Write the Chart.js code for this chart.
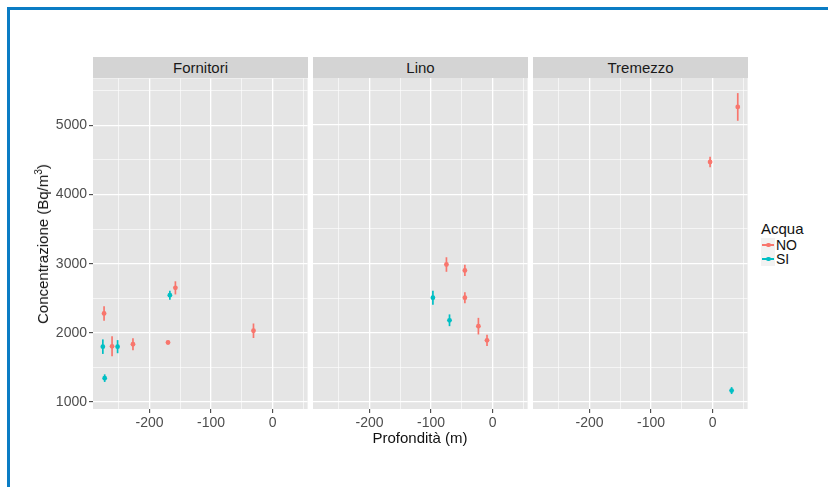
<!DOCTYPE html>
<html>
<head>
<meta charset="utf-8">
<script src="https://cdn.jsdelivr.net/npm/chart.js@4.4.1/dist/chart.umd.min.js"></script>
<style>
    body { margin: 0; background: #fff; font-family: "Liberation Sans", Arial, sans-serif; }
    #page { position: relative; width: 828px; height: 487px; overflow: hidden; background: #fff; }
    #frame { position: absolute; left: 7px; top: 7px; width: 900px; height: 600px;
             border-left: 3px solid #0a7cc4; border-top: 3px solid #0a7cc4; box-sizing: border-box; }
    .panel { position: absolute; top: 68px; height: 369px; }
    .strip { position: absolute; top: 57px; height: 21px; background: #d4d4d4; color: #1a1a1a;
             font-size: 15px; line-height: 21px; text-align: center; }
    .ytitle { position: absolute; left: 42px; top: 244px; transform: translate(-50%, -50%) rotate(-90deg);
              white-space: nowrap; font-size: 15px; color: #111; }
    .xtitle { position: absolute; left: 420px; top: 437px; transform: translate(-50%, -50%);
              white-space: nowrap; font-size: 15px; color: #111; }
    .legend { position: absolute; left: 761px; top: 220px; font-size: 14px; color: #111; }
    .legend .ttl { font-size: 15px; margin-bottom: 1px; }
    .legend .row { height: 14px; line-height: 14px; display: flex; align-items: center; }
    .legend .key { position: relative; width: 14px; height: 14px; background: #f2f2f2; margin-right: 1px; }
    .legend .key i { position: absolute; left: 1px; right: 1px; top: 6px; height: 1.5px; }
    .legend .key b { position: absolute; left: 5px; top: 4.5px; width: 4.5px; height: 4.5px; border-radius: 50%; }
</style>
</head>
<body>
<div id="page">
    <div id="frame"></div>

    <div class="strip" style="left:93px;width:215px;">Fornitori</div>
    <div class="strip" style="left:313px;width:215px;">Lino</div>
    <div class="strip" style="left:533px;width:215px;">Tremezzo</div>

    <div class="panel" style="left:0;width:310px;"><canvas id="c1"></canvas></div>
    <div class="panel" style="left:310px;width:220px;"><canvas id="c2"></canvas></div>
    <div class="panel" style="left:530px;width:220px;"><canvas id="c3"></canvas></div>

    <div class="ytitle">Concentrazione (Bq/m<sup style="font-size:10px;">3</sup>)</div>
    <div class="xtitle">Profondità (m)</div>

    <div class="legend">
        <div class="ttl">Acqua</div>
        <div class="row"><span class="key"><i style="background:#F8766D"></i><b style="background:#F8766D"></b></span>NO</div>
        <div class="row"><span class="key"><i style="background:#00BFC4"></i><b style="background:#00BFC4"></b></span>SI</div>
    </div>
</div>

<script>
// data
var acquaLevels = ['NO', 'SI'];
var acquaColors = ['#F8766D', '#00BFC4'];

var fornitoriX = [-274, -276, -261, -252, -227, -273, -170, -167, -158, -31];
var fornitoriY = [2280, 1800, 1805, 1800, 1835, 1345, 1860, 2545, 2650, 2030];
var fornitoriErr = [105, 105, 145, 95, 85, 55, 25, 65, 95, 105];
var fornitoriAcqua = ['NO', 'SI', 'NO', 'SI', 'NO', 'SI', 'NO', 'SI', 'NO', 'NO'];

var linoX = [-75, -45, -97, -45, -70, -23, -9];
var linoY = [2985, 2900, 2505, 2505, 2180, 2095, 1890];
var linoErr = [105, 80, 100, 80, 85, 120, 80];
var linoAcqua = ['NO', 'NO', 'SI', 'NO', 'SI', 'NO', 'NO'];

var tremezzoX = [41, -4, 31];
var tremezzoY = [5260, 4465, 1165];
var tremezzoErr = [200, 75, 50];
var tremezzoAcqua = ['NO', 'NO', 'SI'];

var xTicks = [-250, -200, -150, -100, -50, 0, 50];
var xLabels = [-200, -100, 0];
var yTicks = [1000, 1500, 2000, 2500, 3000, 3500, 4000, 4500, 5000, 5500];
var yLabels = [1000, 2000, 3000, 4000, 5000];

var xMin = -292, xMax = 57;
var yMin = 899, yMax = 5678;

function buildDatasets(xs, ys, errs, acqua) {
    return acquaLevels.map(function (lvl, k) {
        var pts = [];
        for (var i = 0; i < xs.length; i++) {
            if (acqua[i] === lvl) pts.push({ x: xs[i], y: ys[i], err: errs[i] });
        }
        return {
            label: lvl,
            data: pts,
            backgroundColor: acquaColors[k],
            borderColor: acquaColors[k],
            pointRadius: 2.4,
            pointBorderWidth: 0,
            pointHoverRadius: 2.4
        };
    });
}

var panelBg = {
    id: 'panelBg',
    beforeDraw: function (chart) {
        var a = chart.chartArea, ctx = chart.ctx;
        ctx.save();
        ctx.fillStyle = '#e5e5e5';
        ctx.fillRect(a.left, a.top, a.right - a.left, a.bottom - a.top);
        ctx.restore();
    }
};

var errorBars = {
    id: 'errorBars',
    beforeDatasetsDraw: function (chart) {
        var ctx = chart.ctx, xs = chart.scales.x, ys = chart.scales.y;
        ctx.save();
        ctx.lineWidth = 1.7;
        chart.data.datasets.forEach(function (ds) {
            ctx.strokeStyle = ds.borderColor;
            ds.data.forEach(function (p) {
                var px = xs.getPixelForValue(p.x);
                ctx.beginPath();
                ctx.moveTo(px, ys.getPixelForValue(p.y - p.err));
                ctx.lineTo(px, ys.getPixelForValue(p.y + p.err));
                ctx.stroke();
            });
        });
        ctx.restore();
    }
};

function isMajor(list, v) { return list.indexOf(v) !== -1; }

function makePanel(id, xs, ys, errs, acqua, first) {
    var ctx = document.getElementById(id);
    return new Chart(ctx, {
        type: 'scatter',
        data: { datasets: buildDatasets(xs, ys, errs, acqua) },
        options: {
            responsive: true,
            maintainAspectRatio: false,
            animation: false,
            layout: { padding: { top: 10, right: 2, bottom: 0, left: first ? 0 : 3 } },
            plugins: { legend: { display: false }, tooltip: { enabled: false } },
            scales: {
                x: {
                    type: 'linear',
                    min: xMin,
                    max: xMax,
                    afterBuildTicks: function (ax) { ax.ticks = xTicks.map(function (v) { return { value: v }; }); },
                    afterFit: function (ax) { ax.height = 28; },
                    border: { display: false },
                    grid: {
                        color: '#ffffff',
                        lineWidth: function (c) { return isMajor(xLabels, c.tick.value) ? 1.3 : 0.6; },
                        tickColor: function (c) { return isMajor(xLabels, c.tick.value) ? '#333333' : 'rgba(0,0,0,0)'; },
                        tickLength: 4,
                        tickWidth: 1
                    },
                    ticks: {
                        autoSkip: false,
                        maxRotation: 0,
                        padding: 2,
                        color: '#4d4d4d',
                        font: { family: 'Liberation Sans', size: 14 },
                        callback: function (v) { return isMajor(xLabels, v) ? String(v) : ''; }
                    }
                },
                y: {
                    type: 'linear',
                    min: yMin,
                    max: yMax,
                    afterBuildTicks: function (ax) { ax.ticks = yTicks.map(function (v) { return { value: v }; }); },
                    afterFit: function (ax) { ax.width = first ? 93 : 0; },
                    border: { display: false },
                    grid: {
                        color: '#ffffff',
                        lineWidth: function (c) { return isMajor(yLabels, c.tick.value) ? 1.3 : 0.6; },
                        tickColor: function (c) { return (first && isMajor(yLabels, c.tick.value)) ? '#333333' : 'rgba(0,0,0,0)'; },
                        drawTicks: first,
                        tickLength: 4,
                        tickWidth: 1
                    },
                    ticks: {
                        display: first,
                        autoSkip: false,
                        padding: 2,
                        color: '#4d4d4d',
                        font: { family: 'Liberation Sans', size: 14 },
                        callback: function (v) { return isMajor(yLabels, v) ? String(v) : ''; }
                    }
                }
            }
        },
        plugins: [panelBg, errorBars]
    });
}

makePanel('c1', fornitoriX, fornitoriY, fornitoriErr, fornitoriAcqua, true);
makePanel('c2', linoX, linoY, linoErr, linoAcqua, false);
makePanel('c3', tremezzoX, tremezzoY, tremezzoErr, tremezzoAcqua, false);
</script>
</body>
</html>
